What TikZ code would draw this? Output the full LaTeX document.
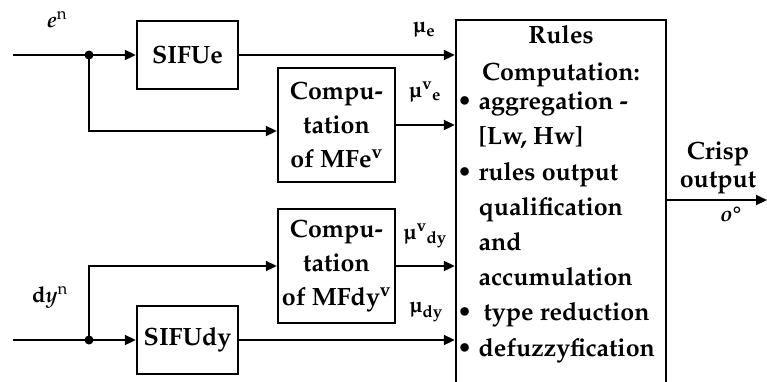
\documentclass[tikz,border=0pt]{standalone}
\usepackage[T1]{fontenc}
\usepackage{mathpazo}
\usepackage{textcomp}
\usetikzlibrary{arrows.meta,calc}
\newcommand{\indnt}{\phantom{\textbullet\ }}
\begin{document}
\begin{tikzpicture}[x=1pt,y=-1pt,
  box/.style={draw, line width=2.4pt, inner sep=0pt, align=center,
    font=\bfseries\fontsize{25}{34}\selectfont},
  conn/.style={line width=2pt, -{Triangle[length=11pt,width=10pt]}},
  wire/.style={line width=2pt},
  lbl/.style={inner sep=0pt, font=\bfseries\fontsize{22}{24}\selectfont},
  txt/.style={inner sep=0pt, font=\bfseries\fontsize{25}{35.2}\selectfont}]
\clip (0,0) rectangle (767,381);
% boxes
\node[box, minimum width=101pt, minimum height=68pt] (sifue) at (187.5,55) {SIFUe};
\node[box, minimum width=117pt, minimum height=114pt] (mfe) at (336.5,125) {Compu-\\tation\\of MFe\textsuperscript{v}};
\node[box, minimum width=117pt, minimum height=114pt] (mfdy) at (336.5,266) {Compu-\\tation\\of MFdy\textsuperscript{v}};
\node[box, minimum width=101pt, minimum height=68pt] (sifudy) at (187.5,340) {SIFUdy};
\node[draw, line width=2.4pt, minimum width=210pt, minimum height=390pt, inner sep=0pt] (rules) at (561,215) {};
% rules text
\node[txt, align=center, anchor=north, font=\bfseries\fontsize{25}{37}\selectfont] (hdr) at (561,25) {Rules\\Computation:};
\node[txt, align=left, anchor=north west] (lst) at (457,92) {%
\textbullet\ aggregation -\\
\indnt[Lw, Hw]\\
\textbullet\ rules output\\
\indnt qualification\\
\indnt and\\
\indnt accumulation\\
\textbullet\ \hspace{5pt}type reduction\\
\textbullet\ defuzzyfication};
% inputs
\coordinate (ein) at (13,55);
\coordinate (dyin) at (13,340);
\coordinate (ea) at (89,55);
\coordinate (da) at (89,340);
\draw[wire] (ein) -- (ea);
\draw[wire] (dyin) -- (da);
\fill (ea) circle (4.5pt);
\fill (da) circle (4.5pt);
\draw[conn] (ea) -- (sifue.west);
\draw[conn] (ea) |- ($(mfe.west)+(0,6)$);
\draw[conn] (da) -- (sifudy.west);
\draw[conn] (da) |- (mfdy.west);
% to rules
\draw[conn] (sifue.east) -- (sifue.east -| rules.west);
\draw[conn] (mfe.east) -- (mfe.east -| rules.west);
\draw[conn] (mfdy.east) -- (mfdy.east -| rules.west);
\draw[conn] (sifudy.east) -- (sifudy.east -| rules.west);
% output
\coordinate (outr) at (666,200);
\coordinate (oute) at (767,200);
\draw[conn] (outr) -- (oute);
% labels
\node[lbl] (le) at (424,30) {\textmu\textsubscript{e}};
\node[lbl] (lve) at (425,92) {\textmu\textsuperscript{v}\textsubscript{e}};
\node[lbl] (lvdy) at (425,236) {\textmu\textsuperscript{v}\textsubscript{dy}};
\node[lbl] (ldy) at (426,312) {\textmu\textsubscript{dy}};
\node[lbl, font=\fontsize{22}{24}\selectfont] (en) at (57,20) {\textit{\textbf{e}}\textsuperscript{n}};
\node[lbl, font=\fontsize{22}{24}\selectfont] (dyn) at (50,297) {\textbf{d}\textit{\textbf{y}}\textsuperscript{n}};
\node[txt, align=center, font=\bfseries\fontsize{25}{28}\selectfont] (crisp) at (718,168) {Crisp\\output};
\node[lbl, font=\bfseries\fontsize{22}{24}\selectfont] (oo) at (731,214) {\textit{o}\textdegree};
\end{tikzpicture}
\end{document}
